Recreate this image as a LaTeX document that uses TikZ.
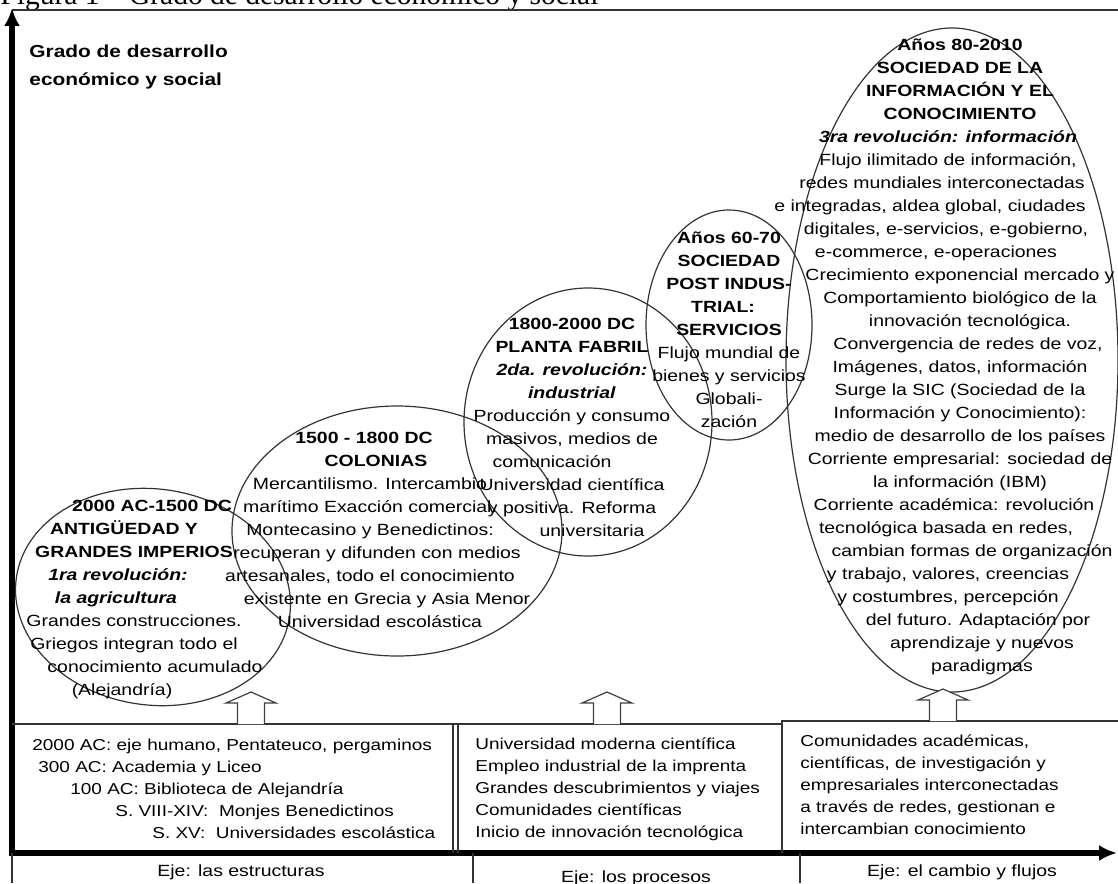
\documentclass[tikz,border=0pt]{standalone}
\usepackage{fontspec}
\setmainfont{Liberation Sans}[FakeStretch=1.2]
\newfontfamily\figcapfont{Liberation Serif}
\usetikzlibrary{shapes}
\usetikzlibrary{arrows}
\usetikzlibrary{arrows.meta}
\usetikzlibrary{positioning}

% ragged lines: put before a line to push it right, after it to push it left
\newcommand{\nudge}[1]{\rule{#1pt}{0pt}}

\tikzset{
  era/.style={draw=black!80, line width=0.6pt, ellipse, inner sep=0pt},
  eratext/.style={align=center, inner sep=0pt, font=\fontsize{8.1}{11.5}\selectfont},
  boxtext/.style={align=left, inner sep=0pt, anchor=north west, font=\fontsize{7.9}{11}\selectfont},
  axislabel/.style={inner sep=0pt, font=\fontsize{8.1}{10}\selectfont},
  thinline/.style={draw=black!80, line width=0.6pt},
  axisline/.style={line width=3.3pt, {Latex[length=9pt,width=8pt]}-{Latex[length=9pt,width=8pt]}},
  upblock/.style={draw=black!75, line width=0.6pt, fill=white},
}

\begin{document}
\begin{tikzpicture}[x=0.5pt, y=-0.5pt]
  \useasboundingbox (0,0) rectangle (1118,883);
  % caption, cut by the page edge
  \node[anchor=base west, inner sep=0pt, font=\figcapfont\fontsize{14.75}{16}\selectfont] (cap) at (0,5) {Figura 1 – Grado de desarrollo económico y social};

  % frame and axes
  \draw[black!80, line width=1pt] (12,10) -- (1118,10);
  \coordinate (ytop) at (12,8);
  \coordinate (orig) at (12,853);
  \coordinate (xend) at (1117,853);
  \draw[axisline] (ytop) -- (orig) -- (xend);
  \node[anchor=north west, align=left, inner sep=0pt, font=\fontsize{8.7}{14}\selectfont\bfseries] (ytitle) at (29,44) {Grado de desarrollo\\económico y social};

  % boxes under the ellipses
  \draw[thinline] (12,724) -- (782,724);
  \draw[thinline] (453,724) -- (453,853);
  \draw[thinline] (458,724) -- (458,853);
  \draw[thinline] (782,853) -- (782,721) -- (1118,721);
  \draw[thinline] (12,853) -- (12,883);
  \draw[thinline] (473,853) -- (473,883);
  \draw[thinline] (800,853) -- (800,883);

  % the five stages
  \node[era, minimum width=138pt, minimum height=108pt, rotate=-8] (e1) at (153,597) {};
  \node[era, minimum width=165pt, minimum height=125pt] (e2) at (397,531) {};
  \node[era, minimum width=124pt, minimum height=134pt] (e3) at (588,422) {};
  \node[era, minimum width=83pt, minimum height=115pt] (e4) at (729,325) {};
  \node[era, minimum width=166pt, minimum height=332pt] (e5) at (952,360) {};

  \node[eratext] (t1) at (134,600) {\nudge{18}\textbf{2000 AC-1500 DC}\\\textbf{ANTIGÜEDAD Y}\nudge{10}\\\textbf{GRANDES IMPERIOS}\\
    \textbf{\textit{1ra revolución:}}\nudge{16}\\\textbf{\textit{la agricultura}}\nudge{18}\\Grandes construcciones.\\
    Griegos integran todo el\\\nudge{21}conocimiento acumulado\\(Alejandría)\nudge{12}};
  \node[eratext] (t2) at (370,530) {\textbf{1500 - 1800 DC}\nudge{6}\\\nudge{6}\textbf{COLONIAS}\\Mercantilismo. Intercambio\\
    marítimo Exacción comercial.\\Montecasino y Benedictinos:\\\nudge{7}recuperan y difunden con medios\\
    artesanales, todo el conocimiento\\\nudge{17}existente en Grecia y Asia Menor\\\nudge{10}Universidad escolástica};
  \node[eratext] (t3) at (572,427) {\textbf{1800-2000 DC}\\\textbf{PLANTA FABRIL}\\\textbf{\textit{2da. revolución:}}\\
    \textbf{\textit{industrial}}\\Producción y consumo\\masivos, medios de\\comunicación\nudge{20}\\
    Universidad científica\\y positiva. Reforma\\\nudge{20}universitaria};
  \node[eratext] (t4) at (729,330) {\textbf{Años 60-70}\\\textbf{SOCIEDAD}\\\textbf{POST INDUS-}\\\textbf{TRIAL:}\nudge{6}\\
    \textbf{SERVICIOS}\\Flujo mundial de\\bienes y servicios\\Globali-\\zación};
  \node[eratext] (t5) at (960,357) {\textbf{Años 80-2010}\\\textbf{SOCIEDAD DE LA}\\\textbf{INFORMACIÓN Y EL}\\
    \textbf{CONOCIMIENTO}\\\textbf{\textit{3ra revolución: información}}\nudge{12}\\Flujo ilimitado de información,\nudge{12}\\
    redes mundiales interconectadas\nudge{18}\\e integradas, aldea global, ciudades\nudge{30}\\digitales, e-servicios, e-gobierno,\nudge{14}\\
    e-commerce, e-operaciones\nudge{24}\\Crecimiento exponencial mercado y\\Comportamiento biológico de la\\
    \nudge{10}innovación tecnológica.\\\nudge{8}Convergencia de redes de voz,\\Imágenes, datos, información\\
    Surge la SIC (Sociedad de la\\Información y Conocimiento):\\medio de desarrollo de los países\\
    Corriente empresarial: sociedad de\\la información (IBM)\\Corriente académica: revolución\nudge{6}\\
    tecnológica basada en redes,\nudge{14}\\\nudge{12}cambian formas de organización\\y trabajo, valores, creencias\nudge{12}\\
    y costumbres, percepción\nudge{12}\\\nudge{18}del futuro. Adaptación por\\\nudge{22}aprendizaje y nuevos\\\nudge{22}paradigmas};

  % block arrows from the boxes up
  \foreach \ax/\ay in {251/724, 607/724, 943/721}
    \draw[upblock] (\ax-13.5,\ay) -- ++(0,-21) -- ++(-11.5,0) -- (\ax,\ay-32) -- (\ax+25,\ay-21) -- ++(-11.5,0) -- (\ax+13.5,\ay);

  % box texts
  \node[boxtext] (past) at (32,739) {2000 AC: eje humano, Pentateuco, pergaminos\\
    \hspace*{3pt}300 AC: Academia y Liceo\\\hspace*{19pt}100 AC: Biblioteca de Alejandría\\
    \hspace*{41.5pt}S. VIII-XIV:\ \ Monjes Benedictinos\\\hspace*{60pt}S. XV:\ \ Universidades escolástica};
  \node[boxtext] (modern) at (475,737) {Universidad moderna científica\\Empleo industrial de la imprenta\\
    Grandes descubrimientos y viajes\\Comunidades científicas\\Inicio de innovación tecnológica};
  \node[boxtext] (network) at (800,734) {Comunidades académicas,\\científicas, de investigación y\\
    empresariales interconectadas\\a través de redes, gestionan e\\intercambian conocimiento};

  % axis labels
  \node[axislabel] (ax1) at (241,872) {Eje: las estructuras};
  \node[axislabel] (ax2) at (636,878) {Eje: los procesos};
  \node[axislabel] (ax3) at (962,872) {Eje: el cambio y flujos};
\end{tikzpicture}
\end{document}
